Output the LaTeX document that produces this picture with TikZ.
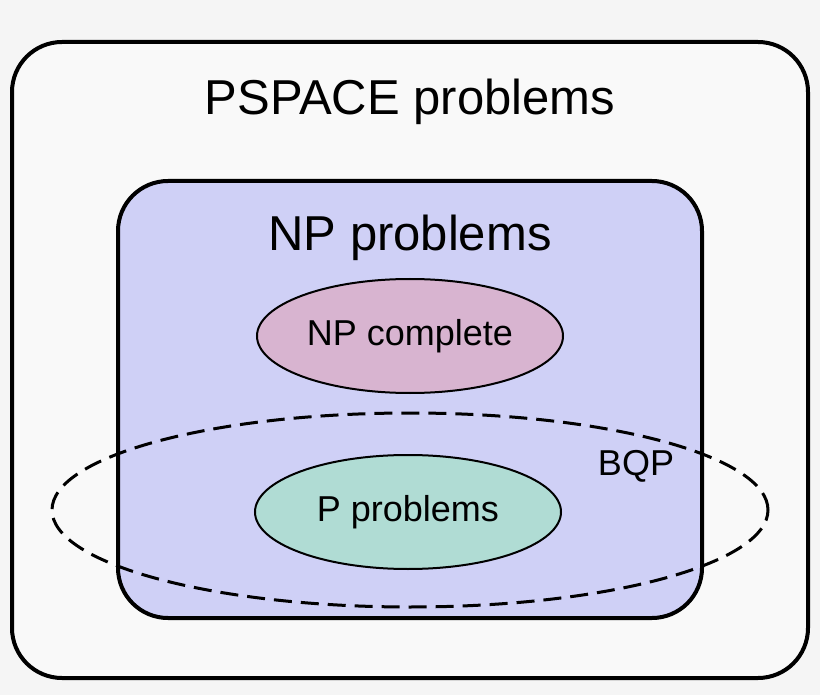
\documentclass[tikz,border=0pt]{standalone}
\usepackage{fontspec}
\setmainfont{Liberation Sans}
\usetikzlibrary{shapes.geometric}
\definecolor{bgc}{HTML}{F5F5F5}
\definecolor{npfill}{HTML}{CFD0F6}
\definecolor{npcfill}{HTML}{D8B4D0}
\definecolor{pfill}{HTML}{B0DCD4}
\begin{document}
\begin{tikzpicture}[x=1pt,y=-1pt
  ,class/.style={line width=4pt,rounded corners=50pt}
  ,set/.style={ellipse,draw,line width=2pt,minimum width=306pt,minimum height=114pt,inner sep=0pt}
  ,big/.style={font=\fontsize{49}{54}\selectfont}
  ,small/.style={font=\fontsize{36}{40}\selectfont}]
  \fill[bgc] (0,0) rectangle (820,695);
  \useasboundingbox (0,0) rectangle (820,695);
  % classes
  \draw[class,fill=bgc!60!white] (12,42) rectangle (808,678);
  \draw[class,fill=npfill] (118,181) rectangle (702,618);
  \node[big] (pspace) at (410,102) {PSPACE problems};
  \node[big] (np) at (410,238) {NP problems};
  \node[set,fill=npcfill,small] (npc) at (410,336) {NP complete};
  \node[set,fill=pfill,small] (p) at (408,512) {P problems};
  % BQP
  \node[ellipse,draw,dashed,line width=3pt,dash pattern=on 18pt off 9pt
    ,minimum width=716pt,minimum height=194pt] (bqp) at (410,510) {};
  \node[small] (bqplabel) at (636,466) {BQP};
\end{tikzpicture}
\end{document}
